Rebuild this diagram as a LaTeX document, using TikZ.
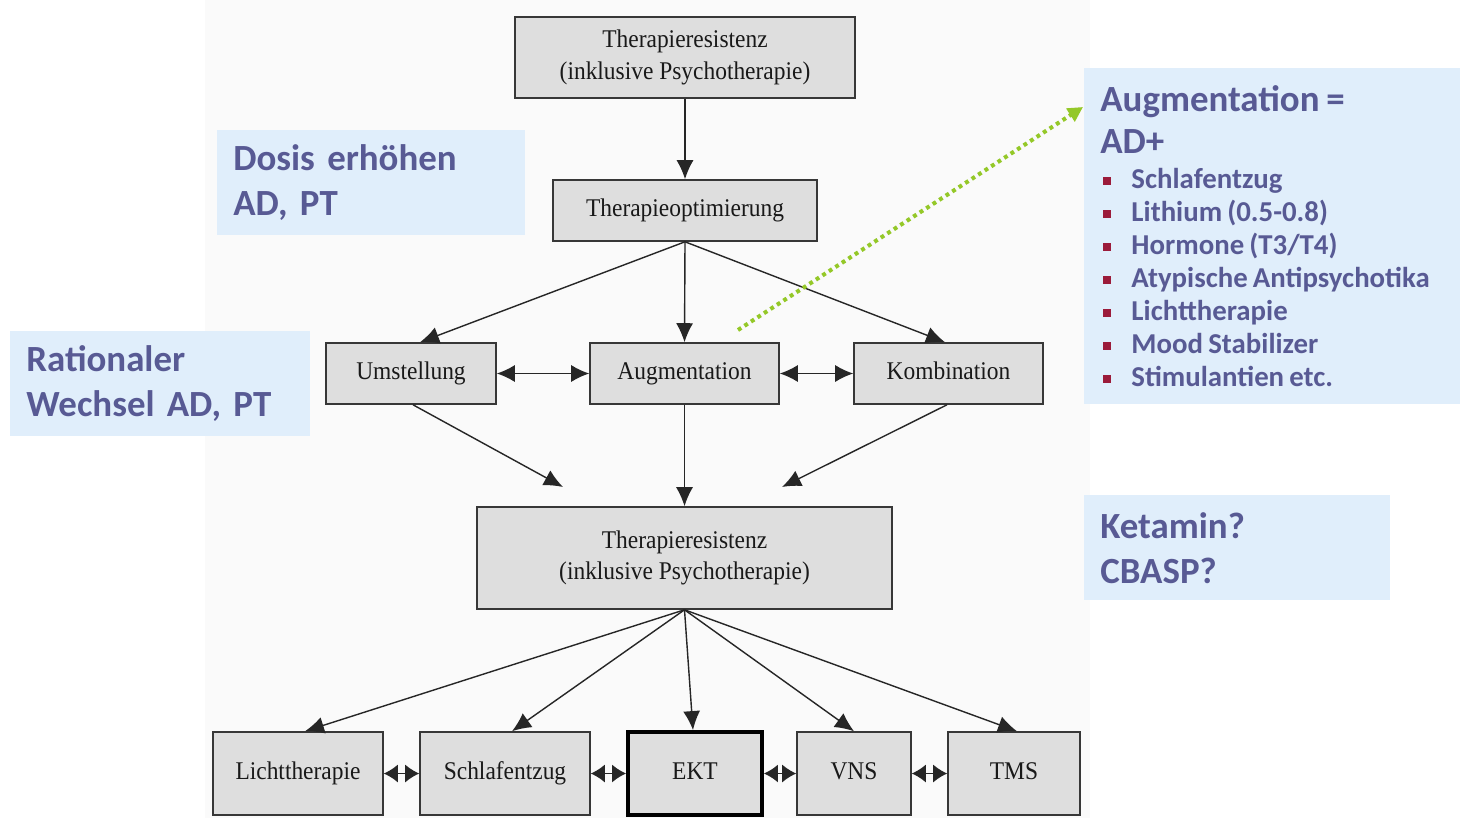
\documentclass[tikz,border=0pt]{standalone}
\usepackage{fontspec}
\setmainfont{Liberation Serif}[FakeStretch=0.92]
\newfontfamily\annofont{Carlito}[WordSpace=0.8]
\usetikzlibrary{arrows.meta,shadows}
\usepackage{xcolor}
\definecolor{boxgray}{RGB}{222,222,222}
\definecolor{edgegray}{RGB}{55,55,55}
\definecolor{bggray}{RGB}{250,250,250}
\definecolor{infoblue}{RGB}{224,238,251}
\definecolor{infotext}{RGB}{88,90,148}
\definecolor{bulred}{RGB}{155,27,58}
\definecolor{dotgreen}{RGB}{148,200,40}

\tikzset{
  stage/.style={draw=edgegray, fill=boxgray, line width=0.9pt, align=center, inner sep=0pt,
    font=\fontsize{14.5}{18}\selectfont, text=black!90,
    drop shadow={shadow xshift=0.6pt, shadow yshift=-0.6pt, opacity=0.6}},
  oneline/.style={text height=2.2ex, text depth=0.7ex},
  flow/.style={-{Latex[length=0.38cm,width=0.34cm]}, line width=0.8pt, draw=black!85},
  twoway/.style={{Latex[length=0.36cm,width=0.34cm]}-{Latex[length=0.36cm,width=0.34cm]}, line width=0.8pt, draw=black!85},
  shortway/.style={{Latex[length=0.28cm,width=0.36cm]}-{Latex[length=0.28cm,width=0.36cm]}, line width=0.8pt, draw=black!85},
  infobox/.style={fill=infoblue, text=infotext, align=left, inner xsep=0.32cm, inner ysep=0pt,
    anchor=north west, font=\annofont\bfseries\fontsize{21}{25.5}\selectfont},
  hint/.style={draw=dotgreen, line width=2.3pt, dash pattern=on 2.2pt off 2.2pt,
    -{Triangle[length=0.3cm,width=0.3cm,fill=dotgreen]}}
}

\begin{document}
\begin{tikzpicture}[x=0.02cm,y=-0.02cm]
\useasboundingbox (0,0) rectangle (1460,818);
\fill[bggray] (205,0) rectangle (1090,818);

\node[stage, minimum width=6.8cm, minimum height=1.62cm] (res1) at (685,57.5) {Therapieresistenz\\(inklusive Psychotherapie)};
\node[stage, oneline, minimum width=5.28cm, minimum height=1.22cm] (optim) at (685,210.5) {Therapieoptimierung};
\node[stage, oneline, minimum width=3.4cm, minimum height=1.22cm] (umst) at (411,373.5) {Umstellung};
\node[stage, oneline, minimum width=3.78cm, minimum height=1.22cm] (augm) at (684.5,373.5) {Augmentation};
\node[stage, oneline, minimum width=3.78cm, minimum height=1.22cm] (komb) at (948.5,373.5) {Kombination};
\node[stage, minimum width=8.3cm, minimum height=2.04cm] (res2) at (684.5,558) {Therapieresistenz\\(inklusive Psychotherapie)};

\node[stage, oneline, minimum width=3.4cm, minimum height=1.66cm] (licht) at (298,773.5) {Lichttherapie};
\node[stage, oneline, minimum width=3.4cm, minimum height=1.66cm] (schlaf) at (505,773.5) {Schlafentzug};
\node[stage, oneline, minimum width=2.68cm, minimum height=1.66cm, line width=2.2pt, draw=black] (ekt) at (695,773.5) {EKT};
\node[stage, oneline, minimum width=2.28cm, minimum height=1.66cm] (vns) at (854,773.5) {VNS};
\node[stage, oneline, minimum width=2.64cm, minimum height=1.66cm] (tms) at (1014,773.5) {TMS};

\coordinate (leftend) at (563,487);
\coordinate (rightend) at (782,487);

\draw[flow] (res1.south) -- (optim.north);
\draw[flow] (optim.south) -- ([xshift=0.18cm]umst.north);
\draw[flow] (optim.south) -- (augm.north);
\draw[flow] (optim.south) -- ([xshift=-0.07cm]komb.north);
\draw[twoway] (umst.east) -- (augm.west);
\draw[twoway] (augm.east) -- (komb.west);
\draw[flow] ([xshift=0.04cm]umst.south) -- (leftend);
\draw[flow] (augm.south) -- (res2.north);
\draw[flow] ([xshift=-0.03cm]komb.south) -- (rightend);

\draw[flow] (res2.south) -- ([xshift=0.14cm]licht.north);
\draw[flow] (res2.south) -- ([xshift=0.14cm]schlaf.north);
\draw[flow] (res2.south) -- ([xshift=-0.04cm]ekt.north);
\draw[flow] (res2.south) -- (vns.north);
\draw[flow] (res2.south) -- ([xshift=0.06cm]tms.north);
\draw[shortway] (licht.east) -- (schlaf.west);
\draw[shortway] (schlaf.east) -- (ekt.west);
\draw[shortway] (ekt.east) -- (vns.west);
\draw[shortway] (vns.east) -- (tms.west);

\node[infobox, text width=5.52cm, minimum height=2.1cm] (dosis) at (217,130) {Dosis erhöhen\\AD, PT};
\node[infobox, text width=5.36cm, minimum height=2.1cm] (wechsel) at (10,331) {Rationaler\\Wechsel AD, PT};
\node[infobox, text width=5.48cm, minimum height=2.1cm] (ketamin) at (1084,495) {Ketamin?\\CBASP?};
\node[infobox, inner xsep=0pt, minimum width=7.52cm, minimum height=6.72cm] (augbox) at (1084,68) {};
\node[anchor=north west, inner sep=0pt, align=left, text=infotext,
  font=\annofont\bfseries\fontsize{21}{24}\selectfont] (aughead) at (1100,85) {Augmentation =\\AD+};
\node[anchor=north west, inner sep=0pt, align=left, text=infotext,
  font=\annofont\bfseries\fontsize{16.4}{18.8}\selectfont] (auglist) at (1103,168) {%
  {\color{bulred}\rule[2.2pt]{4.5pt}{4.5pt}}\hspace{11.5pt}Schlafentzug\\
  {\color{bulred}\rule[2.2pt]{4.5pt}{4.5pt}}\hspace{11.5pt}Lithium (0.5-0.8)\\
  {\color{bulred}\rule[2.2pt]{4.5pt}{4.5pt}}\hspace{11.5pt}Hormone (T3/T4)\\
  {\color{bulred}\rule[2.2pt]{4.5pt}{4.5pt}}\hspace{11.5pt}Atypische Antipsychotika\\
  {\color{bulred}\rule[2.2pt]{4.5pt}{4.5pt}}\hspace{11.5pt}Lichttherapie\\
  {\color{bulred}\rule[2.2pt]{4.5pt}{4.5pt}}\hspace{11.5pt}Mood Stabilizer\\
  {\color{bulred}\rule[2.2pt]{4.5pt}{4.5pt}}\hspace{11.5pt}Stimulantien etc.};

\coordinate (hintstart) at (738,330);
\coordinate (hintend) at (1083,107);
\draw[hint] (hintstart) -- (hintend);
\end{tikzpicture}
\end{document}
